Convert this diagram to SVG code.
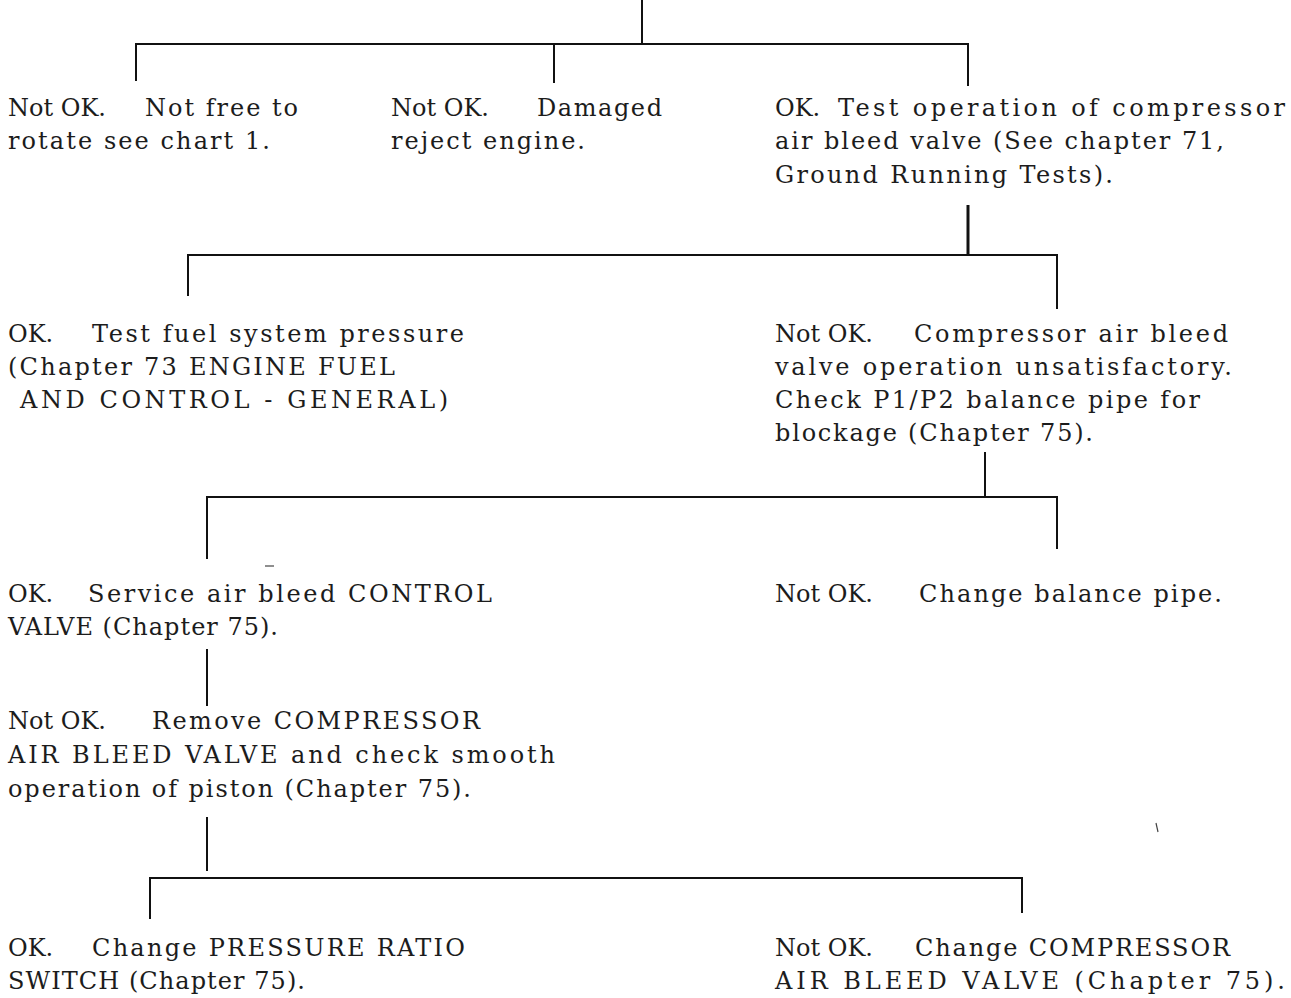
<svg xmlns="http://www.w3.org/2000/svg" width="1291" height="998" viewBox="0 0 1291 998">
  <style>
    .t { font-family: "DejaVu Serif", "Liberation Serif", serif; font-size: 24px; fill: #1c1c1c; }
    .w { fill: none; stroke: #111; stroke-width: 2; stroke-linecap: square; }
    .wb { fill: none; stroke: #111; stroke-width: 3; }
    .speck { fill: none; stroke: #444; stroke-width: 1.2; }
  </style>
  <rect width="1291" height="998" fill="#ffffff"/>

  <!-- branching connectors -->
  <g id="connectors">
    <path class="w" d="M642,0 V44 M136,80 V44 H968 V85 M554,44 V82"/>
    <path class="wb" d="M968,205 V255"/>
    <path class="w" d="M188,295 V255 H1057 V308"/>
    <path class="w" d="M985,453 V497 M207,558 V497 H1057 V548"/>
    <path class="w" d="M207,650 V705"/>
    <path class="w" d="M207,818 V870 M150,918 V878 H1022 V912"/>
  </g>

  <!-- stray marks of the printed sheet -->
  <path class="speck" d="M265,566 H274"/>
  <path class="speck" d="M1156,823 L1158,832"/>

  <g id="n-free">
    <text class="t" x="8" y="116">Not OK.</text>
    <text class="t" x="145" y="116" textLength="153" lengthAdjust="spacing">Not free to</text>
    <text class="t" x="8" y="149" textLength="262" lengthAdjust="spacing">rotate see chart 1.</text>
  </g>

  <g id="n-damaged">
    <text class="t" x="391" y="116">Not OK.</text>
    <text class="t" x="537" y="116" textLength="125" lengthAdjust="spacing">Damaged</text>
    <text class="t" x="391" y="149" textLength="194" lengthAdjust="spacing">reject engine.</text>
  </g>

  <g id="n-test-bleed">
    <text class="t" x="775" y="116">OK.</text>
    <text class="t" x="838" y="116" textLength="447" lengthAdjust="spacing">Test operation of compressor</text>
    <text class="t" x="775" y="149" textLength="449" lengthAdjust="spacing">air bleed valve (See chapter 71,</text>
    <text class="t" x="775" y="183" textLength="338" lengthAdjust="spacing">Ground Running Tests).</text>
  </g>

  <g id="n-fuel">
    <text class="t" x="8" y="342">OK.</text>
    <text class="t" x="92" y="342" textLength="372" lengthAdjust="spacing">Test fuel system pressure</text>
    <text class="t" x="8" y="375" textLength="387" lengthAdjust="spacing">(Chapter 73 ENGINE FUEL</text>
    <text class="t" x="20" y="408" textLength="428" lengthAdjust="spacing">AND CONTROL - GENERAL)</text>
  </g>

  <g id="n-balance-check">
    <text class="t" x="775" y="342">Not OK.</text>
    <text class="t" x="914" y="342" textLength="314" lengthAdjust="spacing">Compressor air bleed</text>
    <text class="t" x="775" y="375" textLength="457" lengthAdjust="spacing">valve operation unsatisfactory.</text>
    <text class="t" x="775" y="408" textLength="425" lengthAdjust="spacing">Check P1/P2 balance pipe for</text>
    <text class="t" x="775" y="441" textLength="318" lengthAdjust="spacing">blockage (Chapter 75).</text>
  </g>

  <g id="n-control-valve">
    <text class="t" x="8" y="602">OK.</text>
    <text class="t" x="88" y="602" textLength="404" lengthAdjust="spacing">Service air bleed CONTROL</text>
    <text class="t" x="8" y="635" textLength="270" lengthAdjust="spacing">VALVE (Chapter 75).</text>
  </g>

  <g id="n-balance-pipe">
    <text class="t" x="775" y="602">Not OK.</text>
    <text class="t" x="919" y="602" textLength="303" lengthAdjust="spacing">Change balance pipe.</text>
  </g>

  <g id="n-remove">
    <text class="t" x="8" y="729">Not OK.</text>
    <text class="t" x="152" y="729" textLength="328" lengthAdjust="spacing">Remove COMPRESSOR</text>
    <text class="t" x="8" y="763" textLength="547" lengthAdjust="spacing">AIR BLEED VALVE and check smooth</text>
    <text class="t" x="8" y="797" textLength="463" lengthAdjust="spacing">operation of piston (Chapter 75).</text>
  </g>

  <g id="n-ratio-switch">
    <text class="t" x="8" y="956">OK.</text>
    <text class="t" x="92" y="956" textLength="373" lengthAdjust="spacing">Change PRESSURE RATIO</text>
    <text class="t" x="8" y="989" textLength="297" lengthAdjust="spacing">SWITCH (Chapter 75).</text>
  </g>

  <g id="n-change-valve">
    <text class="t" x="775" y="956">Not OK.</text>
    <text class="t" x="915" y="956" textLength="315" lengthAdjust="spacing">Change COMPRESSOR</text>
    <text class="t" x="775" y="989" textLength="510" lengthAdjust="spacing">AIR BLEED VALVE (Chapter 75).</text>
  </g>
</svg>
